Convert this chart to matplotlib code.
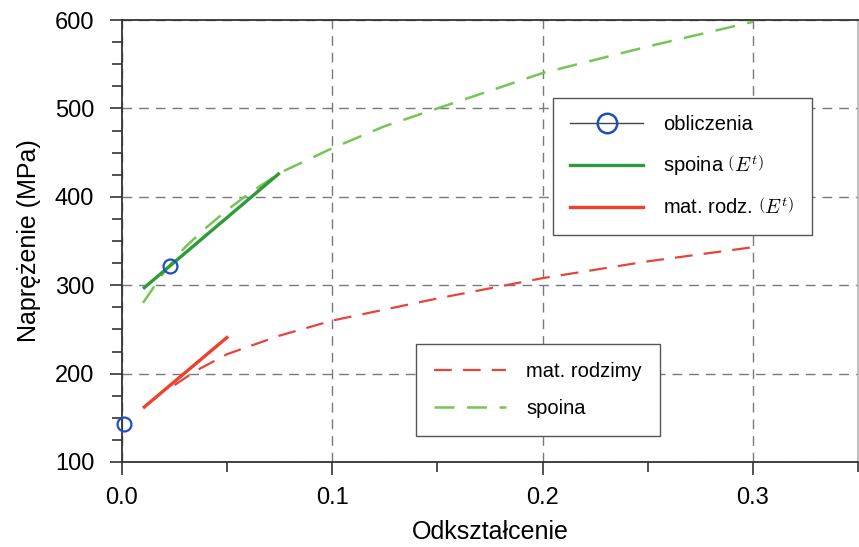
import numpy as np
import matplotlib
matplotlib.use('Agg')
import matplotlib.pyplot as plt
from matplotlib.lines import Line2D
from matplotlib.ticker import MultipleLocator, FormatStrFormatter

# =============================================================================
# DANE
# =============================================================================

# krzywa spoiny (przerywana)
spoina_x = [0.010, 0.020, 0.030, 0.040, 0.050, 0.060, 0.075, 0.100, 0.125,
            0.150, 0.175, 0.200, 0.250, 0.300]
spoina_y = [280, 315, 343, 365, 385, 403, 427, 455, 480, 500, 520, 540, 570, 598]

# krzywa materialu rodzimego (przerywana)
rodz_x = [0.025, 0.035, 0.050, 0.075, 0.100, 0.150, 0.200, 0.250, 0.300]
rodz_y = [187, 203, 222, 243, 260, 285, 308, 327, 343]

# styczne (E^t)
spoina_t_x = [0.010, 0.075]
spoina_t_y = [296, 427]
rodz_t_x = [0.010, 0.0505]
rodz_t_y = [161, 242]

# punkty obliczeniowe
obl_x = [0.001, 0.0228]
obl_y = [142.6, 322]

ZIELONY = "#2f9a3c"
ZIELONY_JASNY = "#74c655"
CZERWONY = "#f0402a"
CZERWONY_PRZ = "#e8433a"
NIEBIESKI = "#1f4fbf"
SIATKA = "#7a7a7a"

plt.rcParams['font.family'] = ['Liberation Sans', 'DejaVu Sans']
plt.rcParams['mathtext.fontset'] = 'cm'

fig = plt.figure(figsize=(8.59, 5.47), dpi=100)
ax = fig.add_axes([0.142, 0.1554, 0.857, 0.808])

ax.plot(rodz_x, rodz_y, color=CZERWONY_PRZ, lw=1.6, dashes=(8, 5))
ax.plot(spoina_x, spoina_y, color=ZIELONY_JASNY, lw=1.8, dashes=(8, 5))
ax.plot(spoina_t_x, spoina_t_y, color=ZIELONY, lw=2.4, solid_capstyle='butt')
ax.plot(rodz_t_x, rodz_t_y, color=CZERWONY, lw=2.4, solid_capstyle='butt')
ax.plot(obl_x, obl_y, ls='none', marker='o', ms=10, mfc='none',
        mec=NIEBIESKI, mew=1.6, clip_on=False, zorder=5)

ax.set_xlim(0, 0.35)
ax.set_ylim(100, 600)
ax.xaxis.set_major_locator(MultipleLocator(0.1))
ax.xaxis.set_minor_locator(MultipleLocator(0.05))
ax.yaxis.set_major_locator(MultipleLocator(100))
ax.yaxis.set_minor_locator(MultipleLocator(25))
ax.xaxis.set_major_formatter(FormatStrFormatter('%.1f'))

ax.grid(which='major', color=SIATKA, lw=1.0, dashes=(7, 5))
ax.tick_params(which='major', direction='out', length=9, width=1.2,
               labelsize=17, color='#333333')
ax.tick_params(which='minor', direction='out', length=7, width=1.2,
               color='#333333')
ax.tick_params(axis='y', which='major', pad=11)
ax.tick_params(axis='x', which='major', pad=9)
for s in ax.spines.values():
    s.set_color('#333333')
    s.set_linewidth(1.3)
ax.spines['right'].set_color('#bbbbbb')

ax.set_xlabel("Odkształcenie", fontsize=18, labelpad=8)
ax.set_ylabel("Naprężenie (MPa)", fontsize=18, labelpad=10)

# legenda 1
uchwyty1 = [
    Line2D([], [], color='#444444', lw=1.0, marker='o', ms=14, mfc='none',
           mec=NIEBIESKI, mew=1.8),
    Line2D([], [], color=ZIELONY, lw=2.4),
    Line2D([], [], color=CZERWONY, lw=2.4),
]
etykiety1 = ["obliczenia", r"spoina $\left(E^t\right)$",
             r"mat. rodz. $\left(E^t\right)$"]
leg1 = ax.legend(uchwyty1, etykiety1, loc='upper left',
                 bbox_to_anchor=(0.586, 0.8235), fontsize=14.5,
                 frameon=True, fancybox=False, framealpha=1,
                 edgecolor='#555555', handlelength=3.6, handletextpad=1.0,
                 labelspacing=0.95, borderpad=0.85, borderaxespad=0)
leg1.get_frame().set_linewidth(1.0)
ax.add_artist(leg1)

# legenda 2
uchwyty2 = [
    Line2D([], [], color=CZERWONY_PRZ, lw=1.6, dashes=(8, 5)),
    Line2D([], [], color=ZIELONY_JASNY, lw=1.8, dashes=(8, 5)),
]
leg2 = ax.legend(uchwyty2, ["mat. rodzimy", "spoina"], loc='upper left',
                 bbox_to_anchor=(0.399, 0.267), fontsize=14.5,
                 frameon=True, fancybox=False, framealpha=1,
                 edgecolor='#555555', handlelength=3.6, handletextpad=1.0,
                 labelspacing=0.9, borderpad=0.9, borderaxespad=0)
leg2.get_frame().set_linewidth(1.0)

fig.savefig('out.png', dpi=100)
